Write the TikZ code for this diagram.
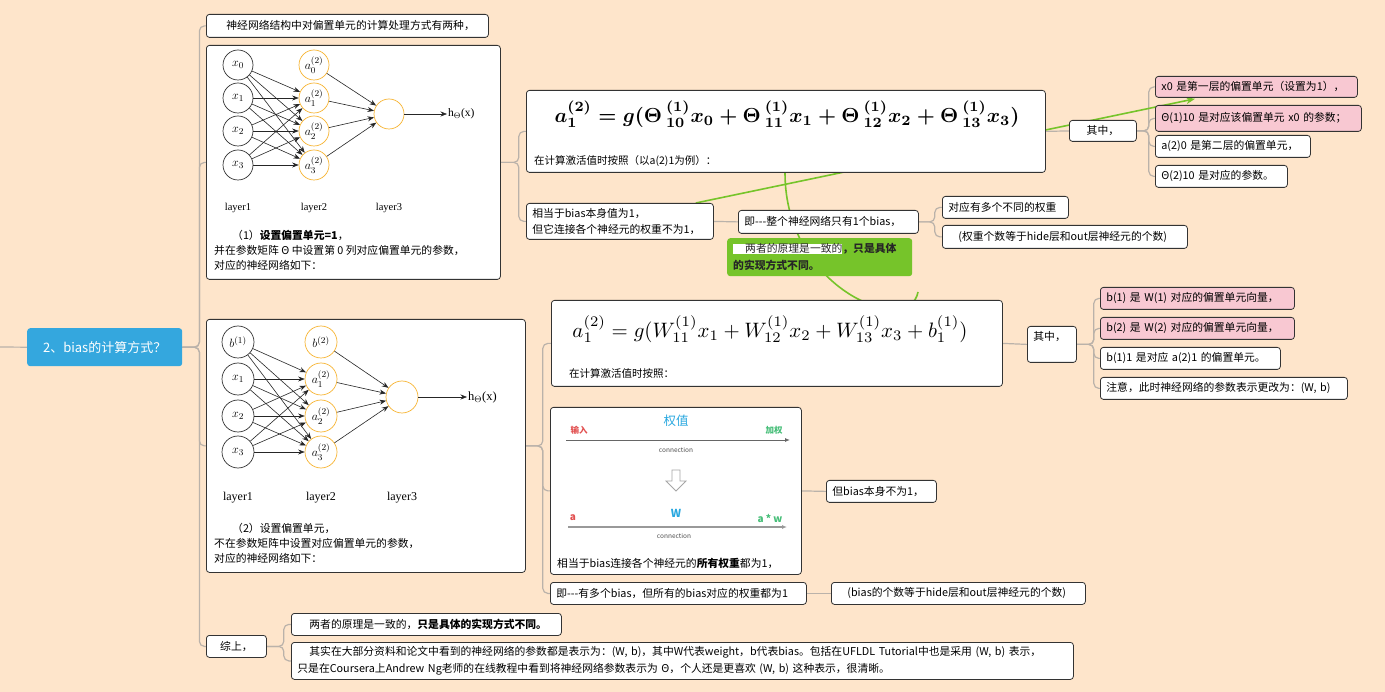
\documentclass[tikz,border=0pt]{standalone}
\usepackage{fontspec}
\setmainfont{Noto Sans CJK SC}
\newfontfamily\serifrm{Liberation Serif}
\usepackage{graphicx}
\usetikzlibrary{arrows.meta,calc}
\pgfdeclarelayer{bgl}
\pgfsetlayers{bgl,main}
\definecolor{bgc}{RGB}{254,229,203}
\definecolor{connc}{RGB}{186,178,170}
\definecolor{rootblue}{RGB}{52,167,222}
\definecolor{pinkbox}{RGB}{248,200,210}
\definecolor{relgreen}{RGB}{118,196,42}
\definecolor{neuorange}{RGB}{247,180,50}
\definecolor{wblue}{RGB}{41,168,224}
\definecolor{ared}{RGB}{226,80,80}
\definecolor{agreen}{RGB}{70,190,120}
\newcommand\dsh{-\kern0pt-\kern0pt-}
\begin{document}
\begin{tikzpicture}[x=1pt,y=-1pt,
  cl/.style={draw=connc, line width=1.2pt, rounded corners=5pt},
  mm/.style={draw=black!80, fill=white, rounded corners=3pt, line width=0.8pt, anchor=north west,
    inner xsep=6pt, inner ysep=0pt, align=left, font=\fontsize{10.8}{16}\selectfont},
  pk/.style={mm, fill=pinkbox},
  neu/.style={circle, draw=black!80, line width=0.7pt, minimum size=30pt, inner sep=0pt, fill=white,
    font=\fontsize{12.5}{14}\selectfont},
  neuo/.style={neu, draw=neuorange},
  nna/.style={-{Stealth[length=6.5pt,width=5pt]}, line width=0.6pt, draw=black!85},
  lay/.style={font=\serifrm\fontsize{10.5}{12}\selectfont, inner sep=0pt},
  rel/.style={draw=relgreen, line width=1.6pt},
  plain/.style={inner sep=0pt, anchor=west, font=\fontsize{10.8}{15}\selectfont, align=left},
  carr/.style={-{Latex[length=5pt,width=4pt]}, line width=0.9pt},
]
\useasboundingbox (0,0) rectangle (1385,692);
\begin{pgfonlayer}{bgl}
\fill[bgc] (0,0) rectangle (1385,692);
\end{pgfonlayer}

% root
\node[fill=rootblue, rounded corners=3pt, anchor=north west, minimum width=155pt, minimum height=38pt,
  text=white, font=\fontsize{13}{15}\selectfont, inner sep=0pt] (root) at (27,328) {2、bias的计算方式？};
\coordinate (lstub) at (0,347);

% level 1
\node[mm, text width=270pt, minimum height=23pt] (top) at (206,14)
  {\hspace{14pt}神经网络结构中对偏置单元的计算处理方式有两种，};
\node[mm, minimum width=294pt, minimum height=234pt] (img1) at (206,45) {};
\node[mm, minimum width=319pt, minimum height=253pt] (img2) at (206,319) {};
\node[mm, text width=48pt, minimum height=22pt, align=center] (z) at (206,635) {综上，};

% ---------- network 1
\foreach \i/\y in {0/65,1/98,2/131,3/165}{
  \node[neu] (ua\i) at (238,\y) {$x_\i$};
  \node[neuo] (ub\i) at (314,\y) {$a_\i^{(2)}$};
}
\node[neuo] (uo) at (389,114) {};
\node[inner sep=1pt, anchor=west, font=\serifrm\fontsize{11.5}{13}\selectfont] (uh) at (447,114) {h$_{\Theta}$(x)};
\foreach \i in {0,...,3}{\foreach \j in {1,2,3}{\draw[nna] (ua\i) -- (ub\j);}}
\foreach \i in {0,...,3}{\draw[nna] (ub\i) -- (uo);}
\draw[nna] (uo) -- (uh);
\node[lay] (ul1) at (238,208) {layer1};
\node[lay] (ul2) at (314,208) {layer2};
\node[lay] (ul3) at (389,208) {layer3};
\node[plain, anchor=north west] (ut) at (214,230)
  {\hspace{18pt}（1）\textbf{设置偏置单元=1}，\\并在参数矩阵 Θ 中设置第 0 列对应偏置单元的参数，\\对应的神经网络如下：};

% ---------- network 2
\foreach \i/\y/\t/\s in {0/342/{b^{(1)}}/{b^{(2)}},1/379/{x_1}/{a_1^{(2)}},2/416/{x_2}/{a_2^{(2)}},3/452/{x_3}/{a_3^{(2)}}}{
  \node[neu, minimum size=32pt, font=\fontsize{13}{15}\selectfont] (va\i) at (238,\y) {$\t$};
  \node[neuo, minimum size=32pt, font=\fontsize{13}{15}\selectfont] (vb\i) at (321,\y) {$\s$};
}
\node[neuo, minimum size=32pt] (vo) at (402,397) {};
\node[inner sep=1pt, anchor=west, font=\serifrm\fontsize{12.5}{14}\selectfont] (vh) at (467,397) {h$_{\Theta}$(x)};
\foreach \i in {0,...,3}{\foreach \j in {1,2,3}{\draw[nna] (va\i) -- (vb\j);}}
\foreach \i in {0,...,3}{\draw[nna] (vb\i) -- (vo);}
\draw[nna] (vo) -- (vh);
\node[lay, font=\serifrm\fontsize{12}{14}\selectfont] (vl1) at (238,498) {layer1};
\node[lay, font=\serifrm\fontsize{12}{14}\selectfont] (vl2) at (321,498) {layer2};
\node[lay, font=\serifrm\fontsize{12}{14}\selectfont] (vl3) at (402,498) {layer3};
\node[plain, anchor=north west] (vt) at (214,523)
  {\hspace{18pt}（2）设置偏置单元，\\不在参数矩阵中设置对应偏置单元的参数，\\对应的神经网络如下：};

% ---------- branch 1
\node[mm, minimum width=519pt, minimum height=82pt] (f1) at (526,90) {};
\node[inner sep=0pt] (f1eq) at (787,114)
  {\resizebox{465pt}{!}{\boldmath$a_1^{(2)}=g({\Theta}\,{}^{(1)}_{10}x_0+{\Theta}\,{}^{(1)}_{11}x_1+{\Theta}\,{}^{(1)}_{12}x_2+{\Theta}\,{}^{(1)}_{13}x_3)$}};
\node[plain, font=\fontsize{10.5}{12}\selectfont] (f1t) at (534,161) {在计算激活值时按照（以a(2)1为例）：};
\node[mm, text width=175pt, minimum height=36pt] (b1) at (526,203)
  {相当于bias本身值为1，\\但它连接各个神经元的权重不为1，};
\node[mm, text width=168pt, minimum height=23pt] (b1r) at (738,210) {即\dsh 整个神经网络只有1个bias，};
\node[mm, text width=114pt, minimum height=22pt] (w1) at (942,196) {对应有多个不同的权重};
\node[mm, text width=233pt, minimum height=23pt] (w2) at (942,225) {\hspace{10pt}(权重个数等于hide层和out层神经元的个数)};
\node[mm, text width=55pt, minimum height=21pt, align=center] (q1) at (1069,120) {其中，};
\node[pk, text width=190pt, minimum height=21pt] (p1) at (1155,76) {x0 是第一层的偏置单元（设置为1），};
\node[pk, text width=194pt, minimum height=26pt] (p2) at (1155,105) {Θ(1)10 是对应该偏置单元 x0 的参数；};
\node[mm, text width=143pt, minimum height=22pt] (p3) at (1155,135) {a(2)0 是第二层的偏置单元，};
\node[mm, text width=120pt, minimum height=22pt] (p4) at (1155,165) {Θ(2)10 是对应的参数。};

% ---------- branch 2
\node[mm, minimum width=451pt, minimum height=86pt] (f2) at (551,300) {};
\node[inner sep=0pt] (f2eq) at (770,329)
  {\resizebox{395pt}{!}{$a_1^{(2)}=g(W_{11}^{(1)}x_1+W_{12}^{(1)}x_2+W_{13}^{(1)}x_3+b_1^{(1)})$}};
\node[plain, font=\fontsize{10.5}{12}\selectfont] (f2t) at (569,374) {在计算激活值时按照：};
\node[mm, text width=37pt, minimum height=36pt] (q2) at (1027,326) {其中，\\~};
\node[pk, text width=182pt, minimum height=22pt] (r1) at (1100,287) {b(1) 是 W(1) 对应的偏置单元向量，};
\node[pk, text width=182pt, minimum height=22pt] (r2) at (1100,317) {b(2) 是 W(2) 对应的偏置单元向量，};
\node[mm, text width=168pt, minimum height=22pt] (r3) at (1100,347) {b(1)1 是对应 a(2)1 的偏置单元。};
\node[mm, text width=235pt, minimum height=22pt] (r4) at (1100,377) {注意，此时神经网络的参数表示更改为：(W, b)};

\node[mm, minimum width=251pt, minimum height=167pt] (cbox) at (550,407) {};
\node[text=wblue, font=\fontsize{12.5}{14}\selectfont, inner sep=0pt] (qz) at (676,421) {权值};
\node[text=ared, font=\bfseries\fontsize{8.5}{10}\selectfont, inner sep=0pt] (sr) at (579,430) {输入};
\node[text=agreen, font=\bfseries\fontsize{8.5}{10}\selectfont, inner sep=0pt] (jq) at (774,430) {加权};
\coordinate (c1s) at (566,440); \coordinate (c1e) at (790,440);
\draw[carr, draw=black!60] (c1s) -- (c1e);
\node[text=black!70, font=\fontsize{6.5}{8}\selectfont, inner sep=0pt] (cn1) at (676,450) {connection};
\draw[draw=black!35, fill=white, line width=0.8pt] (672,470) -- (680,470) -- (680,481) -- (686,481) -- (676,491) -- (666,481) -- (672,481) -- cycle;
\node[text=wblue, font=\bfseries\fontsize{11}{13}\selectfont, inner sep=0pt] (wl) at (676,513) {W};
\node[text=ared, font=\bfseries\fontsize{10}{12}\selectfont, inner sep=0pt] (al) at (573,518) {a};
\node[text=agreen, font=\bfseries\fontsize{10}{12}\selectfont, inner sep=0pt] (awl) at (770,518) {a * w};
\coordinate (c2s) at (568,527); \coordinate (c2e) at (787,527);
\draw[carr, draw=black!40, line width=1.3pt] (c2s) -- (c2e);
\node[text=black!70, font=\fontsize{6.5}{8}\selectfont, inner sep=0pt] (cn2) at (674,536) {connection};
\node[plain] (ct) at (557,563) {相当于bias连接各个神经元的\textbf{所有权重}都为1，};

\node[mm, text width=98pt, minimum height=22pt] (cb) at (826,480) {但bias本身不为1，};
\node[mm, text width=244pt, minimum height=22pt] (mb) at (550,582) {即\dsh 有多个bias，但所有的bias对应的权重都为1};
\node[mm, text width=242pt, minimum height=22pt] (mbr) at (831,582) {\hspace{10pt}(bias的个数等于hide层和out层神经元的个数)};

% ---------- summary
\node[mm, text width=258pt, minimum height=22pt] (z1) at (291,613)
  {\hspace{12pt}两者的原理是一致的，\textbf{只是具体的实现方式不同。}};
\node[mm, text width=770pt, minimum height=37pt, font=\fontsize{10.8}{17}\selectfont] (z2) at (291,642)
  {\hspace{12pt}其实在大部分资料和论文中看到的神经网络的参数都是表示为：(W, b)，其中W代表weight，b代表bias。包括在UFLDL Tutorial中也是采用 (W, b) 表示，\\只是在Coursera上Andrew Ng老师的在线教程中看到将神经网络参数表示为 Θ，个人还是更喜欢 (W, b) 这种表示，很清晰。};

% ---------- green label
\node[fill=relgreen, rounded corners=3pt, anchor=north west, minimum width=185pt, minimum height=38pt,
  text width=173pt, inner xsep=6pt, inner ysep=0pt, align=left, text=black!85,
  font=\fontsize{10.8}{17}\selectfont] (gl) at (727,238)
  {{\setlength\fboxsep{0pt}\colorbox{white}{\hspace{12pt}两者的原理是一致的}}\textbf{，只是具体}\\\textbf{的实现方式不同。}};

% ---------- connectors and relationships (behind)
\begin{pgfonlayer}{bgl}
\draw[cl] (lstub) -- (root.west);
\foreach \c in {top,img1,img2,z}{\draw[cl] (root.east) -- ++(17,0) |- (\c.west);}
\foreach \c in {f1,b1}{\draw[cl] (img1.east) -- ++(18,0) |- (\c.west);}
\draw[cl] (f1.east) -- (q1.west);
\foreach \c in {p1,p2,p3,p4}{\draw[cl] (q1.east) -- ++(12,0) |- (\c.west);}
\draw[cl] (b1.east) -- (b1r.west);
\foreach \c in {w1,w2}{\draw[cl] (b1r.east) -- ++(16,0) |- (\c.west);}
\foreach \c in {f2,cbox,mb}{\draw[cl] (img2.east) -- ++(17,0) |- (\c.west);}
\draw[cl] (f2.east) -- (q2.west);
\foreach \c in {r1,r2,r3,r4}{\draw[cl] (q2.east) -- ++(17,0) |- (\c.west);}
\draw[cl] (cbox.east) -- (cb.west);
\draw[cl] (mb.east) -- (mbr.west);
\foreach \c in {z1,z2}{\draw[cl] (z.east) -- ++(17,0) |- (\c.west);}
\coordinate (g1s) at ($(b1.north east)+(-18,0)$);
\coordinate (g1e) at ($(p1.south west)+(40,1)$);
\draw[rel, -{Stealth[length=9pt,width=7pt]}] (g1s) -- (g1e);
\coordinate (g2s) at ($(f1.south west)+(259,0)$);
\coordinate (g2e) at ($(f2.north west)+(367,-8)$);
\draw[rel] (g2s) .. controls ($(g2s)+(0,118)$) and ($(g2e)+(-8,45)$) .. (g2e);
\end{pgfonlayer}
\end{tikzpicture}
\end{document}
